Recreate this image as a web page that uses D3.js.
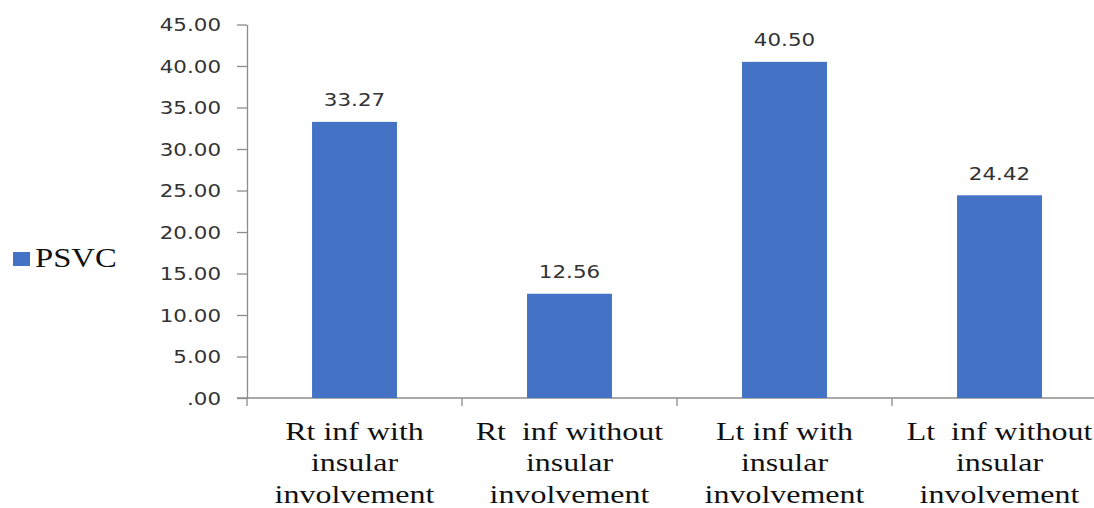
<!DOCTYPE html>
<html>
<head>
<meta charset="utf-8">
<script src="https://cdn.jsdelivr.net/npm/d3@7"></script>
<style>
  html, body { margin: 0; padding: 0; background: #fff; }
  svg { display: block; }
  text { white-space: pre; }
</style>
</head>
<body>
<script>
// ---- data ----
const categories = [
  "Rt inf with insular involvement",
  "Rt  inf without insular involvement",
  "Lt inf with insular involvement",
  "Lt  inf without insular involvement"
];
const categoryLines = [
  ["Rt inf with", "insular", "involvement"],
  ["Rt  inf without", "insular", "involvement"],
  ["Lt inf with", "insular", "involvement"],
  ["Lt  inf without", "insular", "involvement"]
];
const seriesName = "PSVC";
const values = [33.27, 12.56, 40.50, 24.42];
const valueLabels = ["33.27", "12.56", "40.50", "24.42"];
const tickValues = [0, 5, 10, 15, 20, 25, 30, 35, 40, 45];
const tickLabels = [".00", "5.00", "10.00", "15.00", "20.00", "25.00", "30.00", "35.00", "40.00", "45.00"];

// ---- layout ----
const W = 1094, H = 508;
const barColor = "#4472C4";
const axisColor = "#8c8c8c";
const sansSX = 1.19, serifSX = 1.28;

const svg = d3.select("body").append("svg").attr("width", W).attr("height", H);

const y = d3.scaleLinear().domain([0, 45]).range([398, 24.5]);
const x = d3.scaleBand().domain(categories).range([247, 1107]).padding(0);
const barW = x.bandwidth() * 0.395;

// y axis
const yAxis = d3.axisLeft(y).tickValues(tickValues)
  .tickFormat((d, i) => tickLabels[i]).tickSize(10).tickSizeOuter(0);
const gy = svg.append("g").attr("transform", `translate(${x.range()[0]},0)`).call(yAxis);
gy.select(".domain").attr("stroke", axisColor).attr("stroke-width", 1.3);
gy.selectAll(".tick line").attr("stroke", axisColor).attr("stroke-width", 1.3);
gy.selectAll(".tick text")
  .attr("x", -26 / sansSX)
  .attr("dy", "0.36em")
  .attr("transform", `scale(${sansSX},1)`)
  .attr("fill", "#333")
  .attr("font-family", "DejaVu Sans")
  .attr("font-size", 18)
  .attr("text-anchor", "end");

// x axis line + ticks at band boundaries
const x0 = x.range()[0];
svg.append("line")
  .attr("x1", x0 - 10).attr("x2", W + 10)
  .attr("y1", y(0)).attr("y2", y(0))
  .attr("stroke", axisColor).attr("stroke-width", 1.3);
const boundaries = categories.map(c => x(c)).concat([x(categories[categories.length - 1]) + x.bandwidth()]);
svg.selectAll("line.xt").data(boundaries).join("line")
  .attr("class", "xt")
  .attr("x1", d => d).attr("x2", d => d)
  .attr("y1", y(0)).attr("y2", y(0) + 8)
  .attr("stroke", axisColor).attr("stroke-width", 1.3);

// bars
svg.selectAll("rect.bar").data(values).join("rect")
  .attr("class", "bar")
  .attr("x", (d, i) => x(categories[i]) + x.bandwidth() / 2 - barW / 2)
  .attr("width", barW)
  .attr("y", d => y(d))
  .attr("height", d => y(0) - y(d))
  .attr("fill", barColor);

// value labels
svg.selectAll("g.vl").data(values).join("g")
  .attr("class", "vl")
  .attr("transform", (d, i) => `translate(${x(categories[i]) + x.bandwidth() / 2},${y(d) - 15.5}) scale(${sansSX},1)`)
  .append("text")
  .attr("text-anchor", "middle")
  .attr("font-family", "DejaVu Sans")
  .attr("font-size", 18)
  .attr("fill", "#333")
  .text((d, i) => valueLabels[i]);

// category labels
categories.forEach((c, i) => {
  const cx = x(c) + x.bandwidth() / 2;
  categoryLines[i].forEach((line, j) => {
    svg.append("g")
      .attr("transform", `translate(${cx},${440 + j * 31.3}) scale(${serifSX},1)`)
      .append("text")
      .attr("text-anchor", "middle")
      .attr("font-family", "Liberation Serif")
      .attr("font-size", 25)
      .attr("fill", "#111")
      .text(line);
  });
});

// legend
svg.append("rect").attr("x", 13).attr("y", 252).attr("width", 17).attr("height", 14).attr("fill", barColor);
svg.append("g")
  .attr("transform", `translate(35,266.5) scale(1.21,1)`)
  .append("text")
  .attr("font-family", "Liberation Serif")
  .attr("font-size", 27)
  .attr("fill", "#111")
  .text(seriesName);
</script>
</body>
</html>
